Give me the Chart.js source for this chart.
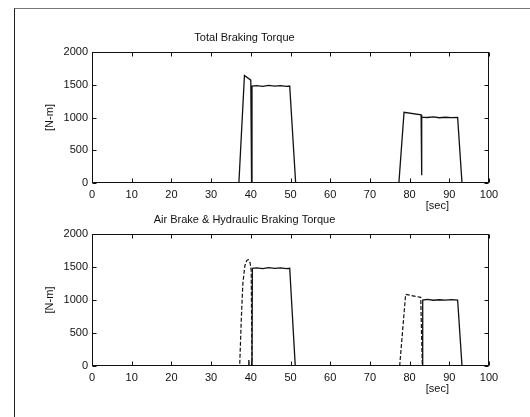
<html>
  <head>
    <title>Braking Torque</title>
    <script src="https://cdn.jsdelivr.net/npm/chart.js"></script>
    <style type="text/css">
      html, body { margin: 0; padding: 0; background: #fff; }
      body { width: 530px; height: 417px; position: relative; overflow: hidden; }
      /* scanned figure frame */
      #frame {
        position: absolute; left: 14px; top: 8px; width: 530px; height: 420px;
        border-left: 1px solid #222; border-top: 1px solid #777;
      }
      canvas { position: absolute; left: 0; }
      #topChart { top: 0; }
      #bottomChart { top: 205px; }
    </style>
  </head>
  <body>
    <div id="frame"></div>
    <canvas id="topChart" width="530" height="215"></canvas>
    <canvas id="bottomChart" width="530" height="212"></canvas>

    <script>
      // ---- data ----
      var xTicks = [0, 10, 20, 30, 40, 50, 60, 70, 80, 90, 100];
      var yTicks = [0, 500, 1000, 1500, 2000];

      // total braking torque [N-m] vs time [sec]
      var totalTime   = [0, 37.0, 38.4, 40.0, 40.2, 40.3, 41.5, 43, 44.5, 46, 47.5, 49.0, 49.8, 51.3,
                         77.3, 78.6, 82.9, 83.0, 83.1, 84.5, 86, 87.5, 89, 90.5, 92.1, 93.2, 100];
      var totalTorque = [0, 0, 1640, 1570, 0, 1480, 1488, 1475, 1490, 1478, 1487, 1476, 1480, 0,
                         0, 1080, 1040, 120, 1005, 1000, 1008, 996, 1004, 998, 1000, 0, 0];

      // air brake torque (dashed)
      var airTime   = [0, 37.2, 37.6, 38.0, 38.5, 39.0, 39.4, 39.8, 40.1, 40.3,
                       77.5, 79.0, 82.8, 83.2, 100];
      var airTorque = [0, 0, 700, 1250, 1520, 1600, 1610, 1570, 1450, 0,
                       0, 1085, 1040, 0, 0];

      // hydraulic braking torque (solid)
      var hydTime   = [0, 39.4, 39.5, 39.6, 40.3, 40.4, 41.5, 43, 44.5, 46, 47.5, 49.0, 49.8, 51.2,
                       83.2, 83.3, 84.5, 86, 87.5, 89, 90.5, 92.1, 93.2, 100];
      var hydTorque = [0, 0, 90, 0, 0, 1480, 1488, 1475, 1490, 1478, 1487, 1476, 1480, 0,
                       0, 1000, 1008, 996, 1004, 998, 1005, 1000, 0, 0];

      function toPoints(t, v) {
        return t.map(function (x, i) { return { x: x, y: v[i] }; });
      }

      var fontFamily = "'Liberation Sans', Arial, sans-serif";
      var ink = '#111';

      // box around the axes with MATLAB style inward ticks
      var boxTicks = {
        id: 'boxTicks',
        afterDatasetsDraw: function (chart) {
          var ctx = chart.ctx, a = chart.chartArea;
          var xs = chart.scales.x, ys = chart.scales.y;
          var L = Math.round(a.left) + 0.5, R = Math.round(a.right) - 0.5;
          var T = Math.round(a.top) + 0.5, B = Math.round(a.bottom) - 0.5;
          ctx.save();
          ctx.strokeStyle = ink;
          ctx.lineWidth = 1;
          ctx.strokeRect(L, T, R - L, B - T);
          ctx.beginPath();
          xs.ticks.forEach(function (t) {
            var px = Math.round(xs.getPixelForValue(t.value)) + 0.5;
            ctx.moveTo(px, B); ctx.lineTo(px, B - 4);
            ctx.moveTo(px, T); ctx.lineTo(px, T + 4);
          });
          ys.ticks.forEach(function (t) {
            var py = Math.round(ys.getPixelForValue(t.value)) + 0.5;
            ctx.moveTo(L, py); ctx.lineTo(L + 4, py);
            ctx.moveTo(R, py); ctx.lineTo(R - 4, py);
          });
          ctx.stroke();
          // x axis label sits to the right, under 80-90
          ctx.fillStyle = ink;
          ctx.font = '11px ' + fontFamily;
          ctx.textAlign = 'center';
          ctx.textBaseline = 'middle';
          ctx.fillText('[sec]', xs.getPixelForValue(87), a.bottom + 23);
          ctx.restore();
        }
      };

      function plain(v) { return String(v); }

      function makeOptions(title, titlePadTop, xHeight) {
        return {
          responsive: false,
          animation: false,
          layout: { padding: { left: 0, right: 41, top: 0, bottom: 0 } },
          elements: { point: { radius: 0 }, line: { tension: 0 } },
          plugins: {
            legend: { display: false },
            tooltip: { enabled: false },
            title: {
              display: true,
              text: title,
              color: ink,
              font: { family: fontFamily, size: 11, weight: 'normal', lineHeight: '14px' },
              padding: { top: titlePadTop, bottom: 7 }
            }
          },
          scales: {
            x: {
              type: 'linear',
              min: 0, max: 100,
              afterBuildTicks: function (s) { s.ticks = xTicks.map(function (v) { return { value: v }; }); },
              ticks: { color: ink, padding: 5, font: { family: fontFamily, size: 11 }, callback: plain },
              grid: { display: false, drawTicks: false },
              border: { display: false },
              afterFit: function (s) { s.height = xHeight; }
            },
            y: {
              type: 'linear',
              min: 0, max: 2000,
              afterBuildTicks: function (s) { s.ticks = yTicks.map(function (v) { return { value: v }; }); },
              ticks: { color: ink, padding: 4, font: { family: fontFamily, size: 11 }, callback: plain },
              grid: { display: false, drawTicks: false },
              border: { display: false },
              title: {
                display: true, text: '[N-m]', color: ink,
                font: { family: fontFamily, size: 11, lineHeight: '14px' },
                padding: { top: 43, bottom: 0 }
              },
              afterFit: function (s) { s.width = 92; }
            }
          }
        };
      }

      new Chart(document.getElementById('topChart'), {
        type: 'line',
        data: {
          datasets: [{
            data: toPoints(totalTime, totalTorque),
            borderColor: ink, borderWidth: 1.3, fill: false
          }]
        },
        options: makeOptions('Total Braking Torque', 31, 32),
        plugins: [boxTicks]
      });

      new Chart(document.getElementById('bottomChart'), {
        type: 'line',
        data: {
          datasets: [{
            data: toPoints(airTime, airTorque),
            borderColor: ink, borderWidth: 1.2, borderDash: [4, 2], fill: false
          }, {
            data: toPoints(hydTime, hydTorque),
            borderColor: ink, borderWidth: 1.3, fill: false
          }]
        },
        options: makeOptions('Air Brake & Hydraulic Braking Torque', 8, 51),
        plugins: [boxTicks]
      });
    </script>
  </body>
</html>
